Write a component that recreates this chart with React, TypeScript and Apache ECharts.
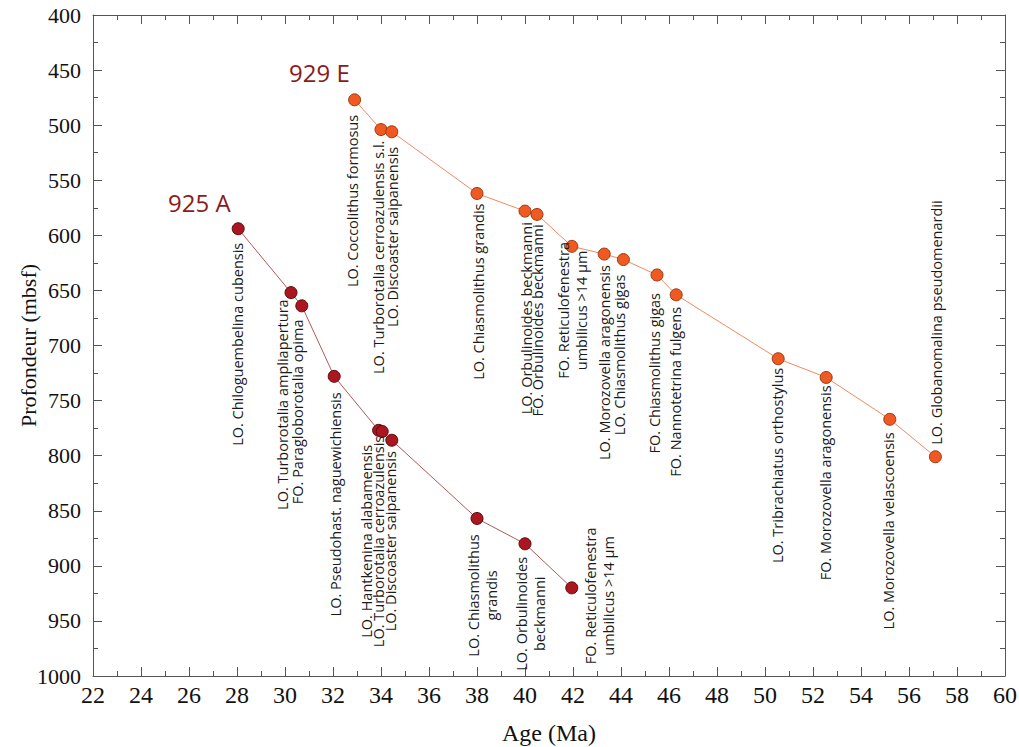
import React, { useEffect, useRef } from "react";
import * as echarts from "echarts";

// ---- Data ----
const ageTicks = { min: 22, max: 60, interval: 2 };
const depthTicks = { min: 400, max: 1000, interval: 50 };

const ages925A = [28.05, 30.25, 30.7, 32.05, 33.9, 34.05, 34.45, 38.0, 40.0, 41.95];
const depths925A = [594, 652, 664, 728, 777, 778, 786, 857, 880, 920];
const events925A = [
  "LO. Chiloguembelina cubensis",
  "LO. Turborotalia ampliapertura",
  "FO. Paragloborotalia opima",
  "LO. Pseudohast. naguewichiensis",
  "LO. Hantkenina alabamensis",
  "LO. Turborotalia cerroazulensis",
  "LO. Discoaster saipanensis",
  "LO. Chiasmolithus\ngrandis",
  "LO. Orbulinoides\nbeckmanni",
  "FO. Reticulofenestra\numbilicus >14 µm",
];

const ages929E = [32.9, 34.0, 34.45, 38.0, 40.0, 40.5, 41.95, 43.3, 44.1, 45.5, 46.3, 50.55, 52.55, 55.2, 57.1];
const depths929E = [477, 504, 506, 562, 578, 581, 610, 617, 622, 636, 654, 712, 729, 767, 801];
const events929E = [
  "LO. Coccolithus formosus",
  "LO. Turborotalia cerroazulensis s.l.",
  "LO. Discoaster saipanensis",
  "LO. Chiasmolithus grandis",
  "LO. Orbulinoides beckmanni",
  "FO. Orbulinoides beckmanni",
  "FO. Reticulofenestra\numbilicus >14 µm",
  "LO. Morozovella aragonensis",
  "LO. Chiasmolithus gigas",
  "FO. Chiasmolithus gigas",
  "FO. Nannotetrina fulgens",
  "LO. Tribrachiatus orthostylus",
  "FO. Morozovella aragonensis",
  "LO. Morozovella velascoensis",
  "LO. Globanomalina pseudomenardii",
];

const siteNames = ["925 A", "929 E"];

// ---- Styles (label placement offsets in px relative to each point) ----
type Place = [number, number, "left" | "center" | "right"];
const place925A: Place[] = [
  [-1, 14, "right"],
  [-9, 112, "center"],
  [-4, 106, "center"],
  [1, 16, "right"],
  [-12, 111, "center"],
  [-4, 110, "center"],
  [-1, 101, "center"],
  [5, 77, "center"],
  [5, 70, "center"],
  [28, 8, "center"],
];
const place929E: Place[] = [
  [-2, 15, "right"],
  [-3, 11, "right"],
  [1, 15, "right"],
  [1, 10, "right"],
  [1, 11, "right"],
  [0, 10, "right"],
  [1, 64, "center"],
  [0, 11, "right"],
  [-4, 15, "right"],
  [-3, 18, "right"],
  [-1, 12, "right"],
  [-1, 9, "right"],
  [-1, 8, "right"],
  [-1, 13, "right"],
  [1, -12, "left"],
];

const AXIS_COLOR = "#555";
const SERIF = "Liberation Serif";
const SANS = "Open Sans";

function labelSeries(ages: number[], depths: number[], texts: string[], places: Place[]) {
  return {
    type: "custom",
    clip: false,
    silent: true,
    z: 5,
    data: ages.map((a, i) => [a, depths[i]]),
    renderItem: (params: any, api: any) => {
      const i = params.dataIndex;
      const p = api.coord([api.value(0), api.value(1)]);
      const [dx, dy, align] = places[i];
      return {
        type: "text",
        x: p[0] + dx,
        y: p[1] + dy,
        rotation: Math.PI / 2,
        style: {
          text: texts[i],
          align,
          verticalAlign: "middle",
          fontFamily: SANS,
          fontSize: 14.5,
          lineHeight: 18,
          fill: "#1a1a1a",
        },
      };
    },
  };
}

function axisCommon(show: boolean) {
  return {
    axisLine: { show: true, lineStyle: { color: AXIS_COLOR, width: 1 } },
    axisTick: { show: true, inside: true, length: 9, lineStyle: { color: AXIS_COLOR, width: 1 } },
    minorTick: { show: true, splitNumber: 2, length: 5, lineStyle: { color: AXIS_COLOR, width: 1 } },
    splitLine: { show: false },
    minorSplitLine: { show: false },
    axisLabel: { show },
  };
}

export default function App() {
  const ref = useRef<HTMLDivElement>(null);
  useEffect(() => {
    if (!ref.current) return;
    const chart = echarts.init(ref.current, undefined, { renderer: "svg" });
    const xBase = { type: "value", min: ageTicks.min, max: ageTicks.max, interval: ageTicks.interval };
    const yBase = { type: "value", min: depthTicks.min, max: depthTicks.max, interval: depthTicks.interval, inverse: true };
    chart.setOption({
      animation: false,
      backgroundColor: "#ffffff",
      grid: { left: 93, right: 14, top: 15, bottom: 71, containLabel: false, outerBoundsMode: "none" },
      xAxis: [
        {
          ...xBase,
          ...axisCommon(true),
          position: "bottom",
          axisLabel: { show: true, fontFamily: SERIF, fontSize: 24, color: "#111", margin: 7, formatter: (v: number) => String(v) },
          name: "Age (Ma)",
          nameLocation: "middle",
          nameGap: 45,
          nameTextStyle: { fontFamily: SERIF, fontSize: 24, color: "#111" },
        },
        { ...xBase, ...axisCommon(false), position: "top" },
      ],
      yAxis: [
        {
          ...yBase,
          ...axisCommon(true),
          position: "left",
          axisLabel: { show: true, fontFamily: SERIF, fontSize: 22, color: "#111", margin: 12, formatter: (v: number) => String(v) },
          name: "Profondeur (mbsf)",
          nameLocation: "middle",
          nameRotate: 90,
          nameGap: 65,
          nameMoveOverlap: false,
          nameTextStyle: { fontFamily: SERIF, fontSize: 22, color: "#111", verticalAlign: "middle" },
        },
        { ...yBase, ...axisCommon(false), position: "right" },
      ],
      graphic: [
        {
          type: "text",
          left: 168,
          top: 190,
          style: { text: siteNames[0], fontFamily: SANS, fontSize: 24, fill: "#8b1a1a" },
        },
        {
          type: "text",
          left: 289,
          top: 60,
          style: { text: siteNames[1], fontFamily: SANS, fontSize: 24, fill: "#8b1a1a" },
        },
      ],
      series: [
        {
          name: siteNames[0],
          type: "line",
          data: ages925A.map((a, i) => [a, depths925A[i]]),
          symbol: "circle",
          symbolSize: 12,
          itemStyle: { color: "#ab1620", borderColor: "#5a0a0a", borderWidth: 1 },
          lineStyle: { color: "#b05a5a", width: 1 },
          z: 3,
        },
        {
          name: siteNames[1],
          type: "line",
          data: ages929E.map((a, i) => [a, depths929E[i]]),
          symbol: "circle",
          symbolSize: 12,
          itemStyle: { color: "#f05a22", borderColor: "#9a3a12", borderWidth: 1 },
          lineStyle: { color: "#f08a60", width: 1 },
          z: 3,
        },
        labelSeries(ages925A, depths925A, events925A, place925A),
        labelSeries(ages929E, depths929E, events929E, place929E),
      ],
    });
    return () => chart.dispose();
  }, []);
  return (
    <div
      ref={ref}
      style={{ position: "fixed", left: 0, top: 0, width: 1019, height: 747, background: "#fff" }}
    />
  );
}
